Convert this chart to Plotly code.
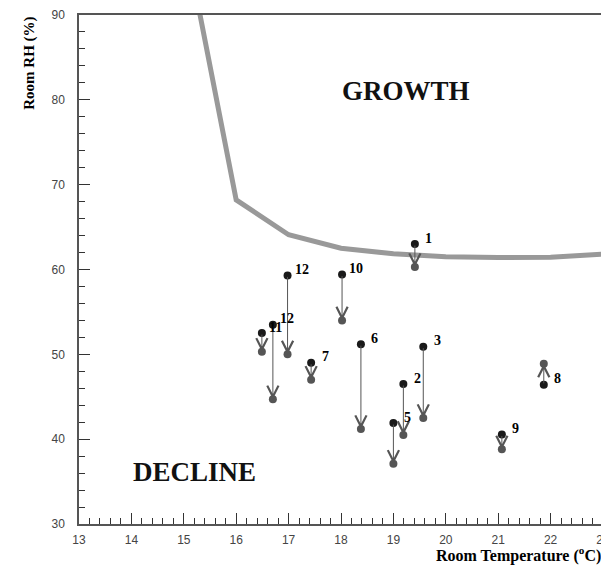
import plotly.graph_objects as go

# Boundary between growth and decline
curve_t = [15, 16, 17, 18, 19, 20, 21, 22, 23]
curve_rh = [99.8, 68.2, 64.1, 62.5, 61.85, 61.5, 61.4, 61.45, 61.8]

# Measurements: room temperature, RH before and after
labels = ['1', '2', '3', '5', '6', '7', '8', '9', '10', '11', '12', '12']
temp = [19.41, 19.19, 19.57, 19.0, 18.38, 17.43, 21.87, 21.07, 18.02, 16.49, 16.70, 16.98]
rh_start = [63.0, 46.5, 50.9, 41.9, 51.2, 49.0, 46.4, 40.55, 59.4, 52.5, 53.5, 59.3]
rh_end = [60.3, 40.5, 42.5, 37.1, 41.2, 47.0, 48.9, 38.8, 54.0, 50.3, 44.7, 50.0]

serif = "Liberation Serif"

fig = go.Figure()

fig.add_trace(go.Scatter(x=curve_t, y=curve_rh, mode='lines',
                         line=dict(color='#999999', width=5), hoverinfo='skip'))

fig.add_trace(go.Scatter(x=temp, y=rh_end, mode='markers',
                         marker=dict(color='#555555', size=8)))
fig.add_trace(go.Scatter(x=temp, y=rh_start, mode='markers',
                         marker=dict(color='#1a1a1a', size=8)))

# arrows from start to end
for t, y0, y1 in zip(temp, rh_start, rh_end):
    fig.add_annotation(x=t, y=y1, ax=t, ay=y0, axref='x', ayref='y',
                       text='', showarrow=True, arrowhead=5, arrowsize=2.2,
                       arrowwidth=1, arrowcolor='#555555', standoff=0)

# point numbers
for lab, t, y0 in zip(labels, temp, rh_start):
    fig.add_annotation(x=t, y=y0, text='<b>' + lab + '</b>', showarrow=False,
                       xshift=14, yshift=6,
                       font=dict(family=serif, size=14, color='black'))

fig.add_annotation(x=19.24, y=81.1, text='<b>GROWTH</b>', showarrow=False,
                   font=dict(family=serif, size=27, color='#111111'))
fig.add_annotation(x=15.21, y=36.1, text='<b>DECLINE</b>', showarrow=False,
                   font=dict(family=serif, size=27, color='#111111'))

# axis titles
fig.add_annotation(xref='paper', yref='paper', x=1, y=-0.035,
                   xanchor='right', yanchor='top', showarrow=False,
                   text='<b>Room Temperature (<sup>o</sup>C)</b>',
                   font=dict(family=serif, size=16, color='black'))
fig.add_annotation(xref='paper', yref='paper', x=-0.095, y=1.0,
                   xanchor='center', yanchor='top', showarrow=False,
                   textangle=-90, text='<b>Room RH (%)</b>',
                   font=dict(family=serif, size=15, color='black'))

# page adds an 8px body margin, so the figure is 8px smaller
fig.update_layout(
    width=601, height=561,
    margin=dict(l=71, r=6, t=7, b=45),
    plot_bgcolor='white', paper_bgcolor='white',
    showlegend=False,
)
fig.update_xaxes(range=[13, 23], dtick=1, showgrid=False, zeroline=False,
                 automargin=False, ticklabeloverflow='allow',
                 showline=True, mirror=True, linecolor='#555555', linewidth=1.5,
                 ticks='inside', ticklen=11, tickcolor='#333333',
                 minor=dict(ticks='inside', ticklen=6, dtick=0.2, tickcolor='#333333'),
                 tickfont=dict(family='Liberation Sans', size=12, color='#444444'),
                 ticklabelstandoff=4)
fig.update_yaxes(range=[30, 90], dtick=10, showgrid=False, zeroline=False,
                 automargin=False, ticklabeloverflow='allow',
                 showline=True, mirror=True, linecolor='#555555', linewidth=1.5,
                 ticks='inside', ticklen=11, tickcolor='#333333',
                 minor=dict(ticks='inside', ticklen=6, dtick=2, tickcolor='#333333'),
                 tickfont=dict(family='Liberation Sans', size=12, color='#444444'),
                 ticklabelstandoff=10)

fig.write_html("out.html")
